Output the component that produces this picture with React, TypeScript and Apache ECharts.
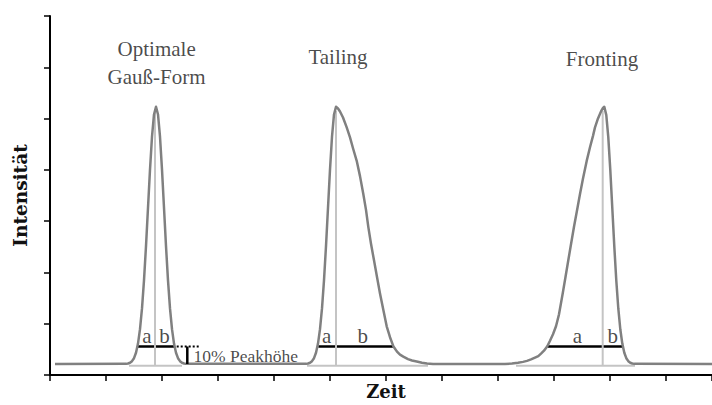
import React, { useEffect, useRef } from "react";
import * as echarts from "echarts";

// Time axis (arbitrary units), intensity axis (arbitrary units)
const timeMax = 662;
const timeTick = 56;
const intensityMax = 7;

const baseline = 0.213;
const lightBaseline = 0.18;
const widthLevel = 0.557;
const markerTop = 5.15;

// Peak 1 – optimal Gaussian shape
const peakOptimal: [number, number][] = [
  [76, 0.217], [78, 0.225], [80, 0.239], [82, 0.27], [84, 0.328], [86, 0.434],
  [88, 0.613], [90, 0.894], [92, 1.299], [94, 1.844], [96, 2.513], [98, 3.26],
  [100, 4.004], [102, 4.646], [104, 5.08], [106, 5.23], [108, 5.08], [110, 4.646],
  [112, 4.004], [114, 3.26], [116, 2.513], [118, 1.844], [120, 1.299], [122, 0.894],
  [124, 0.613], [126, 0.434], [128, 0.328], [130, 0.27], [132, 0.239], [134, 0.225],
  [136, 0.217],
];

// Peak 2 – tailing
const peakTailing: [number, number][] = [
  [256, 0.217], [258, 0.225], [260, 0.239], [262, 0.27], [264, 0.328], [266, 0.434],
  [268, 0.613], [270, 0.894], [272, 1.299], [274, 1.844], [276, 2.513], [278, 3.26],
  [280, 4.004], [282, 4.646], [284, 5.08], [286, 5.23], [288, 5.197], [290, 5.139],
  [293, 5.022], [296.7, 4.828], [300, 4.634], [303, 4.421], [306.7, 4.176], [310, 3.878],
  [313.3, 3.529], [316, 3.219], [318.3, 2.889], [321, 2.56], [324, 2.236], [327, 1.91],
  [330, 1.59], [333.3, 1.27], [336.7, 0.95], [340, 0.737], [343.3, 0.562], [347, 0.456],
  [350, 0.397], [353.3, 0.359], [358, 0.31], [362, 0.283], [366.7, 0.262], [372, 0.24],
  [377, 0.225], [383, 0.213],
];

// Peak 3 – fronting
const peakFronting: [number, number][] = [
  [455, 0.213], [462, 0.223], [468, 0.239], [473, 0.256], [477, 0.275], [481, 0.304],
  [485, 0.339], [488.3, 0.368], [491, 0.417], [494, 0.475], [497.3, 0.562], [500, 0.669],
  [503, 0.795], [506, 0.95], [509, 1.183], [512.7, 1.59], [515.5, 1.91], [518.3, 2.236],
  [521, 2.55], [524, 2.889], [527, 3.209], [530, 3.529], [533, 3.83], [536.7, 4.175],
  [540, 4.441], [543, 4.663], [545, 4.828], [548, 5.003], [551, 5.139], [553, 5.207],
  [554.3, 5.23], [556.3, 5.067], [558.3, 4.634], [560.3, 3.995], [562.3, 3.252],
  [564.3, 2.507], [566.3, 1.84], [568.3, 1.297], [570.3, 0.892], [572.3, 0.613],
  [574.3, 0.434], [576.3, 0.328], [578.3, 0.27], [580.3, 0.239], [582.3, 0.225],
  [584.3, 0.217],
];

const curveStart: [number, number] = [5, baseline];
const curveEnd: [number, number] = [timeMax, baseline];

// Retention-time markers, light baselines and 10% width lines per peak
const peakMarkers = [105, 286, 552.7];
const lightBaseStart = [79, 257, 466];
const lightBaseEnd = [132, 378, 585];
const widthStart = [87.3, 268.3, 497.3];
const widthEnd = [125, 343.3, 572.3];

// 10% height indicator
const dottedStart = 126.7;
const dottedEnd = 150;
const heightBarTime = 137.3;

// Text annotations
const labelA = [97, 276.7, 527.5];
const labelB = [114.5, 312.7, 562.8];
const abLevel = 0.766;
const peakTitles = ["Optimale", "Gauß-Form", "Tailing", "Fronting"];
const peakTitleTime = [106.7, 106.5, 288, 552];
const peakTitleLevel = [6.347, 5.817, 6.199, 6.153];
const heightLabel = "10% Peakhöhe";
const heightLabelPos: [number, number] = [143, 0.368];

const DARK = "#808080";
const LIGHT = "#c4c4c4";
const SERIF = "Liberation Serif, serif";

function seg(points: [number, number][], color: string, width: number, type: any = "solid", z = 2) {
  return {
    type: "line",
    data: points,
    symbol: "none",
    silent: true,
    z,
    lineStyle: { color, width, type, cap: "butt" },
  };
}

function textItem(value: [number, number], name: string, size: number, position: any = "inside") {
  return {
    value,
    name,
    label: {
      show: true,
      position,
      distance: 0,
      formatter: "{b}",
      color: "#1a1a1a",
      textBorderWidth: 0,
      fontFamily: SERIF,
      fontSize: size,
    },
  };
}

export default function App() {
  const ref = useRef<HTMLDivElement>(null);
  useEffect(() => {
    const chart = echarts.init(ref.current!, null, { renderer: "svg" });
    const series: any[] = [];
    // light baseline segments
    peakMarkers.forEach((_, i) => {
      series.push(seg([[lightBaseStart[i], lightBaseline], [lightBaseEnd[i], lightBaseline]], LIGHT, 2, "solid", 1));
    });
    // 10% width lines
    peakMarkers.forEach((_, i) => {
      series.push(seg([[widthStart[i], widthLevel], [widthEnd[i], widthLevel]], "#000", 2.5, "solid", 2));
    });
    // retention markers
    peakMarkers.forEach((t) => {
      series.push(seg([[t, lightBaseline], [t, markerTop]], LIGHT, 2, "solid", 3));
    });
    // main chromatogram
    series.push({
      type: "line",
      data: [curveStart, ...peakOptimal, ...peakTailing, ...peakFronting, curveEnd],
      symbol: "none",
      silent: true,
      z: 4,
      lineStyle: { color: DARK, width: 2.5, join: "round" },
    });
    // dotted 10% guide and bar
    series.push(seg([[dottedStart, widthLevel], [dottedEnd, widthLevel]], "#000", 2, [2, 2], 5));
    series.push(seg([[heightBarTime, widthLevel], [heightBarTime, baseline]], "#000", 2.5, "solid", 5));

    const textData: any[] = [];
    labelA.forEach((t) => textData.push(textItem([t, abLevel], "a", 21)));
    labelB.forEach((t) => textData.push(textItem([t, abLevel], "b", 21)));
    peakTitles.forEach((s, i) => textData.push(textItem([peakTitleTime[i], peakTitleLevel[i]], s, 21)));
    textData.push(textItem(heightLabelPos, heightLabel, 17.5, "right"));
    series.push({
      type: "scatter",
      data: textData,
      symbolSize: 1,
      silent: true,
      z: 6,
      itemStyle: { color: "transparent" },
      label: { show: true, formatter: "{b}", fontFamily: SERIF },
    });

    chart.setOption({
      animation: false,
      backgroundColor: "#fff",
      grid: { left: 50, right: 0, top: 16, bottom: 28, containLabel: false },
      xAxis: {
        type: "value",
        min: 0,
        max: timeMax,
        interval: timeTick,
        name: "Zeit",
        nameLocation: "middle",
        nameGap: 7,
        nameTextStyle: {
          fontFamily: "DejaVu Serif",
          fontWeight: "bold",
          fontSize: 18,
          color: "#111",
          padding: [0, 0, 0, 10],
        },
        axisLine: { lineStyle: { color: "#000", width: 2 } },
        axisTick: { length: 6, lineStyle: { color: "#000", width: 1.5 } },
        axisLabel: { show: false },
        splitLine: { show: false },
      },
      yAxis: {
        type: "value",
        min: 0,
        max: intensityMax,
        interval: 1,
        name: "Intensität",
        nameLocation: "middle",
        nameGap: 20,
        nameTextStyle: {
          fontFamily: "DejaVu Serif",
          fontWeight: "bold",
          fontSize: 18.5,
          color: "#111",
        },
        axisLine: { show: true, lineStyle: { color: "#000", width: 2 } },
        axisTick: { show: true, length: 6, lineStyle: { color: "#000", width: 1.5 } },
        axisLabel: { show: false },
        splitLine: { show: false },
      },
      series,
    });
    return () => chart.dispose();
  }, []);
  return (
    <div
      ref={ref}
      style={{ position: "absolute", left: 0, top: 0, width: 712, height: 405, background: "#fff" }}
    />
  );
}
